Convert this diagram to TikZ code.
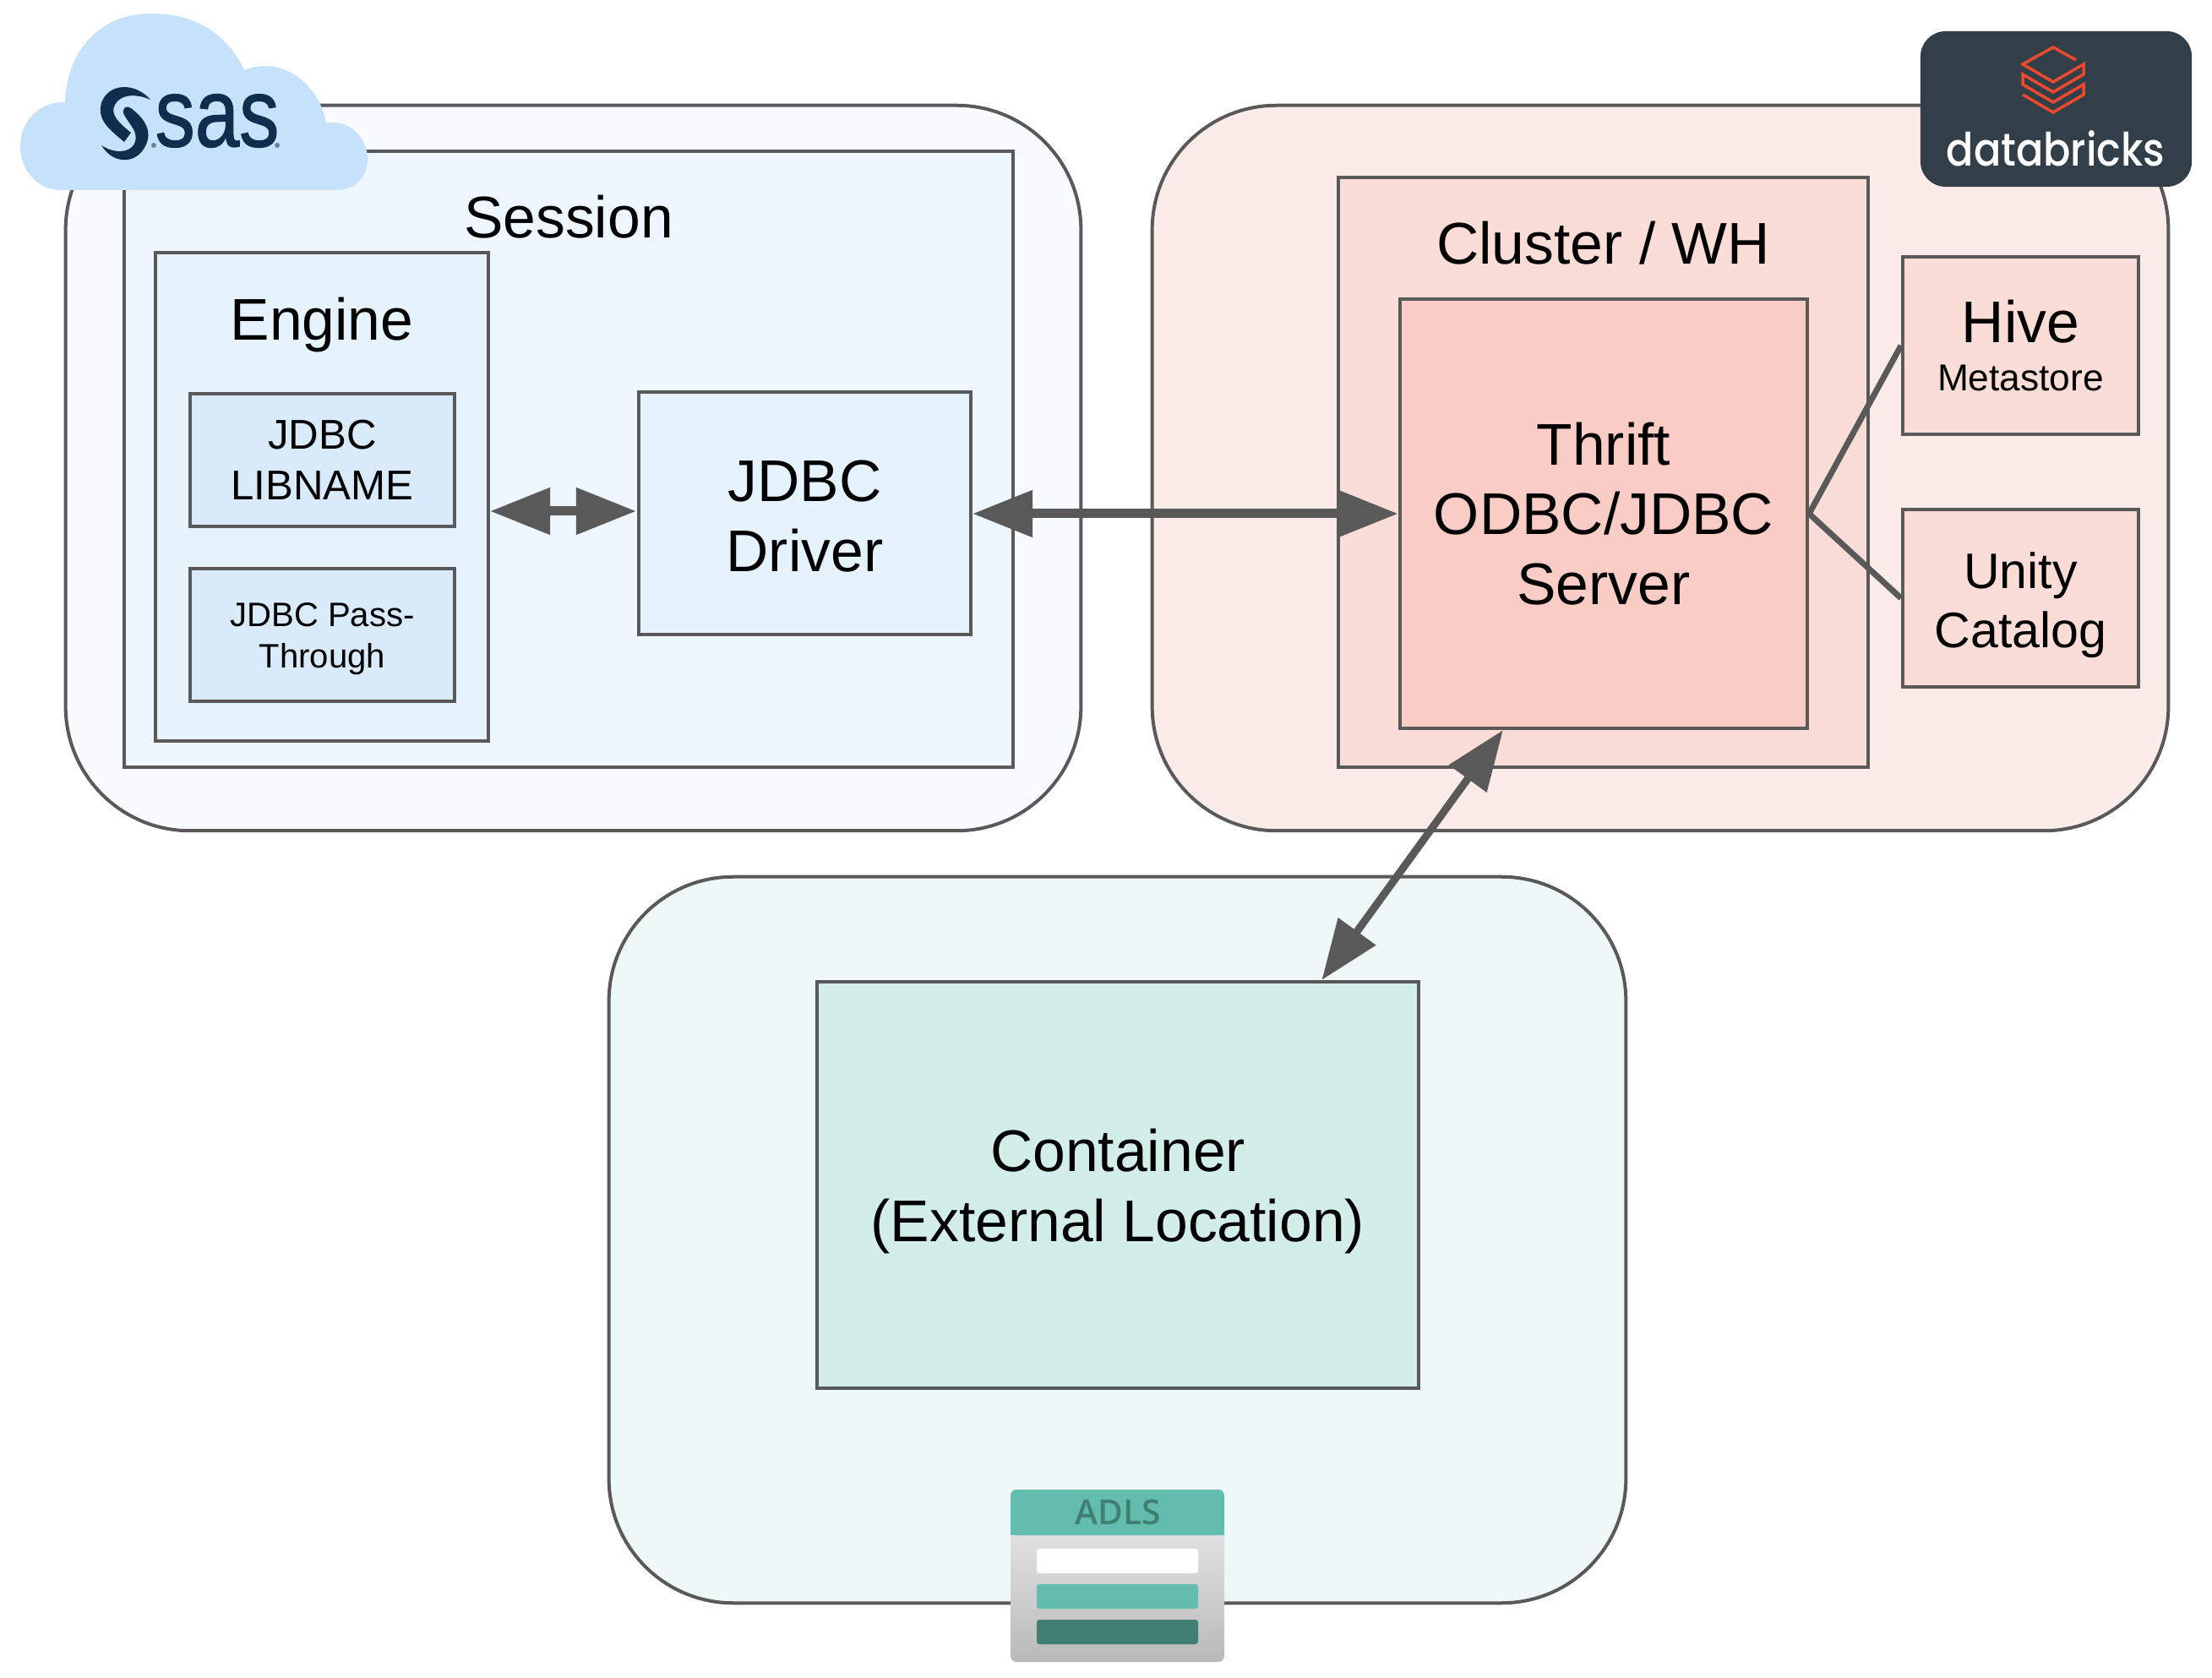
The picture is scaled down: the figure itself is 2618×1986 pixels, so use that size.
\documentclass[tikz,border=0pt]{standalone}
\usepackage{fontspec}
\setmainfont{Liberation Sans}
\newfontfamily\logofont[UprightFont=* Medium]{Poppins}
\newfontfamily\adlsfont[UprightFont=* Semibold]{Open Sans}
\newfontfamily\saslogofont[FakeBold=1.2]{Liberation Sans}
\usetikzlibrary{arrows.meta,calc}
\definecolor{linegray}{HTML}{595959}
\definecolor{sasnavy}{HTML}{0F2D4C}
\definecolor{dbslate}{HTML}{333F48}
\definecolor{dborange}{HTML}{EB4A2E}
\definecolor{adlsteal}{HTML}{62BDAE}
\definecolor{adlsdark}{HTML}{417F73}
\definecolor{cloudblue}{HTML}{C5E2FA}
\definecolor{sasouter}{HTML}{F8FBFF}
\definecolor{sasmid}{HTML}{EEF7FF}
\definecolor{sasbox}{HTML}{E6F3FD}
\definecolor{sasinner}{HTML}{D9EBFB}
\definecolor{dbouter}{HTML}{FCECE9}
\definecolor{dbmid}{HTML}{FADDD7}
\definecolor{dbinner}{HTML}{F9CCC6}
\definecolor{adlsouter}{HTML}{EEF8F6}
\definecolor{adlsinner}{HTML}{D3EEE8}
\tikzstyle{box}=[rectangle, draw=linegray, line width=0.04cm, inner sep=0pt, align=center]
\tikzstyle{zone}=[box, rounded corners=1.47cm]
\tikzstyle{big}=[align=center, font=\fontsize{19.8}{23.4}\selectfont]
\tikzstyle{mid}=[align=center, font=\fontsize{16.8}{20}\selectfont]
\tikzstyle{small}=[align=center, font=\fontsize{14}{17}\selectfont]
\tikzstyle{tiny}=[align=center, font=\fontsize{11.4}{13.8}\selectfont]
\tikzstyle{link}=[line width=0.11cm, draw=linegray, {Triangle[length=0.71cm,width=0.53cm,fill=linegray]}-{Triangle[length=0.71cm,width=0.53cm,fill=linegray]}]
\tikzstyle{branch}=[line width=0.07cm, draw=linegray]
\begin{document}
\begin{tikzpicture}[x=0.01cm,y=-0.01cm]
        \useasboundingbox (0,0) rectangle (2618,1986);
        % SAS side
        \node[zone, fill=sasouter, minimum width=12.01cm, minimum height=8.58cm] (sasarea) at (678.5,554) {};
        \node[box, fill=sasmid, minimum width=10.52cm, minimum height=7.29cm] (session) at (673,543.5) {};
        \node[big] (sessionlabel) at (673,257) {Session};
        \node[box, fill=sasbox, minimum width=3.94cm, minimum height=5.78cm] (engine) at (381,588) {};
        \node[big] (enginelabel) at (381,385) {Engine};
        \node[box, small, fill=sasinner, minimum width=3.13cm, minimum height=1.57cm] (libname) at (381.5,544.5) {JDBC\\LIBNAME};
        \node[box, fill=sasinner, minimum width=3.13cm, minimum height=1.57cm] (passthrough) at (381.5,751.5) {};
        \node[tiny] (passlabel) at (381.5,756) {JDBC Pass-\\Through};
        \node[box, fill=sasbox, minimum width=3.93cm, minimum height=2.87cm] (driver) at (952.5,607.5) {};
        \node[big] (driverlabel) at (952.5,611) {JDBC\\Driver};

        % Databricks side
        \node[zone, fill=dbouter, minimum width=12.02cm, minimum height=8.58cm] (dbarea) at (1965,554) {};
        \node[box, fill=dbmid, minimum width=6.27cm, minimum height=6.98cm] (cluster) at (1897.5,559) {};
        \node[big] (clusterlabel) at (1897.5,288) {Cluster / WH};
        \node[box, big, fill=dbinner, minimum width=4.82cm, minimum height=5.08cm] (thrift) at (1898,608) {Thrift\\ODBC/JDBC\\Server};
        \node[box, fill=dbmid, minimum width=2.79cm, minimum height=2.10cm] (hive) at (2391.5,409) {{\fontsize{19.8}{23.4}\selectfont Hive}\\[4.4pt]{\fontsize{12.6}{14}\selectfont Metastore}};
        \node[box, fill=dbmid, minimum width=2.79cm, minimum height=2.10cm] (unity) at (2391.5,708) {};
        \node[mid] (unitylabel) at (2391.5,716) {Unity\\Catalog};

        % storage side
        \node[zone, fill=adlsouter, minimum width=12.03cm, minimum height=8.59cm] (adlsarea) at (1322.5,1467.5) {};
        \node[box, fill=adlsinner, minimum width=7.12cm, minimum height=4.81cm] (container) at (1323,1402.5) {};
        \node[big] (containerlabel) at (1323,1410) {Container\\(External Location)};

        % connectors
        \coordinate (engineport) at (580,605);
        \coordinate (driverin) at (753,605);
        \coordinate (driverout) at (1151,608);
        \coordinate (thriftdown) at ($(thrift.south west)!0.255!(thrift.south east)$);
        \coordinate (containerup) at ($(container.north west)!0.837!(container.north east)$);
        \draw[link] (engineport) -- (driverin);
        \draw[link] (driverout) -- (thrift.west);
        \draw[link, line width=0.09cm] (thriftdown) -- (containerup);
        \draw[branch] (thrift.east) -- (hive.west);
        \draw[branch] (thrift.east) -- (unity.west);

        % SAS cloud
        \fill[cloudblue] (72,225) .. controls (45,225) and (24,202) .. (24,173)
            .. controls (24,142) and (48,120) .. (77,121)
            .. controls (78,70) and (110,16) .. (180,16)
            .. controls (235,16) and (272,45) .. (289,83)
            .. controls (335,65) and (378,100) .. (386,146)
            .. controls (415,140) and (435,165) .. (435,188)
            .. controls (435,210) and (420,225) .. (398,225) -- cycle;
        \fill[sasnavy] (178,118) .. controls (160,97) and (128,98) .. (120,122)
            .. controls (115,142) and (128,152) .. (147,168) -- (155,157)
            .. controls (140,145) and (130,135) .. (136,124)
            .. controls (142,112) and (160,110) .. (178,118) -- cycle;
        \fill[sasnavy] (120,172) .. controls (135,197) and (167,195) .. (175,165)
            .. controls (178,150) and (168,138) .. (155,128)
            .. controls (150,124) and (143,128) .. (147,136)
            .. controls (155,150) and (163,155) .. (160,168)
            .. controls (155,182) and (135,182) .. (120,172) -- cycle;
        \node[text=sasnavy, xscale=0.82, font=\saslogofont\fontsize{32.7}{34}\selectfont] (saslogo) at (257,143) {sas};
        \fill[sasnavy!60!white] (182,172) circle (3);
        \fill[sasnavy!60!white] (328,172) circle (3);

        % Databricks badge
        \node[rectangle, fill=dbslate, rounded corners=0.3cm, minimum width=3.21cm, minimum height=1.84cm, inner sep=0pt] (dbbadge) at (2433.5,129) {};
        \draw[dborange, line width=0.035cm, miter limit=10] (2457,71) -- (2430,56) -- (2394,76) -- (2430,97) -- (2466,76) -- (2466,88) -- (2430,109) -- (2394,88) -- (2394,100) -- (2430,121) -- (2466,100) -- (2466,112) -- (2430,133) -- (2394,112);
        \node[text=white, xscale=0.93, yscale=1.06, font=\logofont\fontsize{14.6}{16}\selectfont] (dblogo) at (2433,176) {databricks};

        % ADLS icon
        \shade[top color=gray!20, bottom color=gray!55, rounded corners=0.07cm] (1196,1800) rectangle (1449,1967);
        \fill[adlsteal, rounded corners=0.07cm] (1196,1817) -- (1196,1763) -- (1449,1763) -- (1449,1817) -- cycle;
        \fill[adlsteal] (1196,1805) rectangle (1449,1817);
        \fill[white, rounded corners=0.03cm] (1227,1833) rectangle (1418,1862);
        \fill[adlsteal, rounded corners=0.03cm] (1227,1875) rectangle (1418,1904);
        \fill[adlsdark, rounded corners=0.03cm] (1227,1917) rectangle (1418,1946);
        \node[text=adlsdark, font=\adlsfont\fontsize{11.6}{12}\selectfont] (adlslabel) at (1323,1790) {ADLS};
    \end{tikzpicture}
\end{document}
